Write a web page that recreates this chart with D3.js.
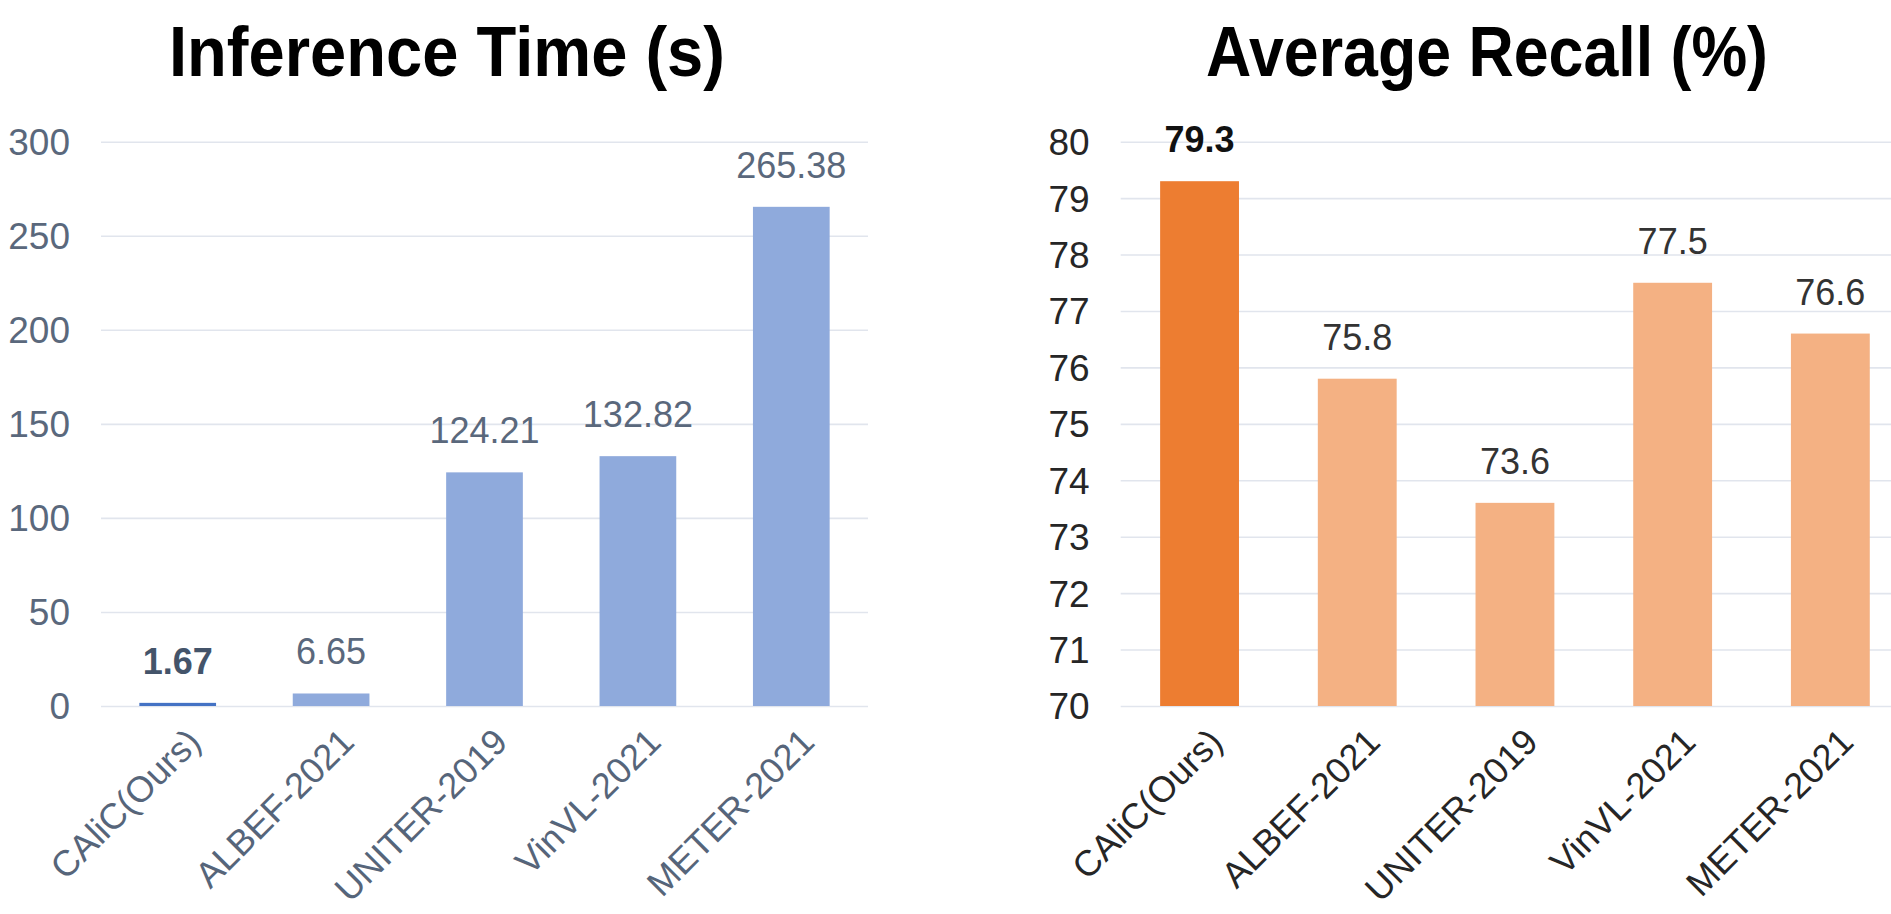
<!DOCTYPE html>
<html>
<head>
<meta charset="utf-8">
<script src="https://cdn.jsdelivr.net/npm/d3@7"></script>
<style>
  html, body { margin: 0; padding: 0; background: #fff; }
  svg { display: block; }
</style>
</head>
<body>
<svg id="chart" width="1891" height="914"></svg>
<script>
// ---- data ----
const categories = ["CAliC(Ours)", "ALBEF-2021", "UNITER-2019", "VinVL-2021", "METER-2021"];
const timeValues = [1.67, 6.65, 124.21, 132.82, 265.38];
const timeLabels = ["1.67", "6.65", "124.21", "132.82", "265.38"];
const recallValues = [79.3, 75.8, 73.6, 77.5, 76.6];
const recallLabels = ["79.3", "75.8", "73.6", "77.5", "76.6"];
const timeTicks = [0, 50, 100, 150, 200, 250, 300];
const recallTicks = [70, 71, 72, 73, 74, 75, 76, 77, 78, 79, 80];
const titles = ["Inference Time (s)", "Average Recall (%)"];

const svg = d3.select("#chart");
const FONT = "'Liberation Sans', Arial, Helvetica, sans-serif";

function drawPanel(cfg) {
  const g = svg.append("g");
  const x = d3.scaleBand().domain(categories).range([cfg.x0, cfg.x1]).paddingInner(0.5).paddingOuter(0.25);
  const y = d3.scaleLinear().domain(cfg.domain).range([706, 141.7]);

  // gridlines + y tick labels
  const yAxis = d3.axisLeft(y).tickValues(cfg.ticks).tickSize(-(cfg.gridEnd - cfg.x0)).tickPadding(31).tickFormat(d3.format("d"));
  const ya = g.append("g").attr("transform", `translate(${cfg.x0},0)`).call(yAxis);
  ya.select(".domain").remove();
  ya.selectAll(".tick line").attr("stroke", "#E1E5ED").attr("stroke-width", 1.6);
  ya.selectAll(".tick text")
    .attr("fill", cfg.tickColor)
    .attr("font-family", FONT)
    .attr("font-size", 37)
    .attr("dy", "0.35em");

  // bars
  g.selectAll("rect.bar").data(cfg.values).enter().append("rect")
    .attr("class", "bar")
    .attr("x", (d, i) => x(categories[i]))
    .attr("width", x.bandwidth())
    .attr("y", d => y(d))
    .attr("height", d => y(cfg.domain[0]) - y(d))
    .attr("fill", (d, i) => i === 0 ? cfg.firstColor : cfg.color);

  // data labels
  g.selectAll("text.val").data(cfg.values).enter().append("text")
    .attr("class", "val")
    .attr("x", (d, i) => x(categories[i]) + x.bandwidth() / 2)
    .attr("y", d => y(d) - 29)
    .attr("text-anchor", "middle")
    .attr("font-family", FONT)
    .attr("font-size", 36)
    .attr("font-weight", (d, i) => i === 0 ? "bold" : "normal")
    .attr("fill", (d, i) => i === 0 ? cfg.boldLabelColor : cfg.labelColor)
    .text((d, i) => cfg.labels[i]);

  // x axis labels (rotated)
  const xAxis = d3.axisBottom(x).tickSize(0).tickPadding(0);
  const xa = g.append("g").attr("transform", "translate(0,706)").call(xAxis);
  xa.select(".domain").remove();
  xa.selectAll(".tick text")
    .attr("font-family", FONT)
    .attr("font-size", 36)
    .attr("fill", cfg.xLabelColor)
    .attr("text-anchor", "end")
    .attr("x", 0).attr("y", 0).attr("dy", 0)
    .attr("transform", "translate(25,38) rotate(-45)");

  // title
  svg.append("text")
    .attr("x", cfg.titleX0)
    .attr("y", 76)
    .attr("font-family", FONT)
    .attr("font-weight", "bold")
    .attr("font-size", 70)
    .attr("fill", "#000")
    .attr("textLength", cfg.titleW)
    .attr("lengthAdjust", "spacingAndGlyphs")
    .text(cfg.title);
}

drawPanel({
  x0: 101, x1: 868, gridEnd: 868, domain: [0, 300], ticks: timeTicks,
  values: timeValues, labels: timeLabels,
  color: "#8FAADC", firstColor: "#4472C4",
  tickColor: "#5A687C", labelColor: "#5A687C", boldLabelColor: "#44546A", xLabelColor: "#56657A",
  title: titles[0], titleX0: 169, titleW: 556
});

drawPanel({
  x0: 1120.7, x1: 1909.2, gridEnd: 1909.2, domain: [70, 80], ticks: recallTicks,
  values: recallValues, labels: recallLabels,
  color: "#F4B183", firstColor: "#ED7D31",
  tickColor: "#262626", labelColor: "#333333", boldLabelColor: "#111111", xLabelColor: "#262626",
  title: titles[1], titleX0: 1206, titleW: 562
});
</script>
</body>
</html>
